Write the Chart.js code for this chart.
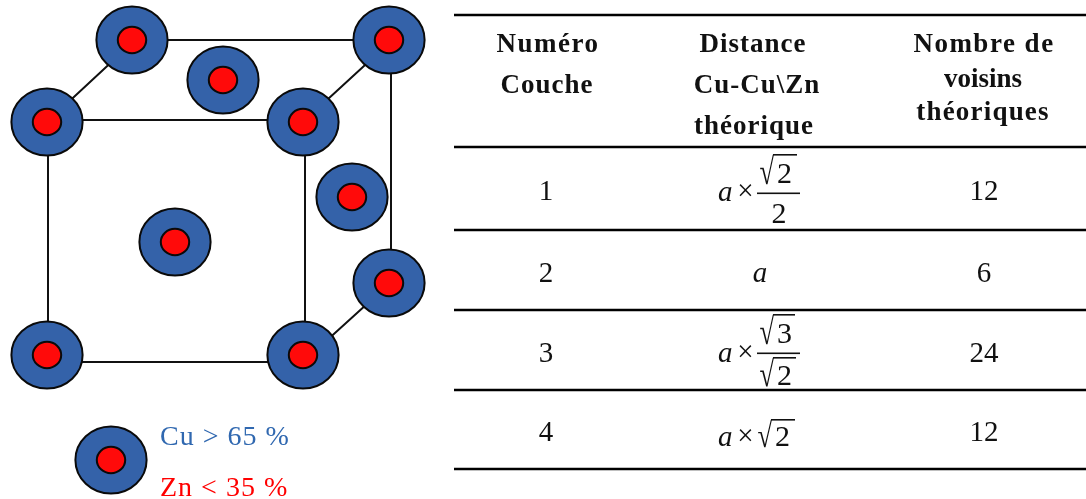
<!DOCTYPE html>
<html lang="fr">
<head>
<meta charset="utf-8">
<title>Couches de voisins Cu-Zn</title>
<script src="https://cdn.jsdelivr.net/npm/chart.js@4"></script>
<style>
  html, body { margin: 0; padding: 0; background: #fff; overflow: hidden; }
  canvas { display: block; }
</style>
</head>
<body>
<canvas id="latticeChart" width="1086" height="499"></canvas>
<script>
// values (pixel-like units, y going down)
const atomX = [132, 389, 223, 47, 303, 352, 175, 389, 47, 303];
const atomY = [40, 40, 80, 122, 122, 197, 242, 283, 355, 355];
const legendAtomX = [111];
const legendAtomY = [460];

const bondX = [132, 389, null, 47, 303, null, 47, 303, null, 48, 48, null, 305, 305, null, 391, 391, null, 132, 47, null, 389, 303, null, 389, 303];
const bondY = [40, 40, null, 120, 120, null, 362, 362, null, 122, 355, null, 122, 355, null, 40, 283, null, 43, 122, null, 43, 122, null, 284, 362];

const ruleY = [15, 147, 230, 310, 390, 469];

const headerCol1 = ['Numéro', 'Couche'];
const headerCol2 = ['Distance', 'Cu-Cu\\Zn', 'théorique'];
const headerCol3 = ['Nombre de', 'voisins', 'théoriques'];
const layerNumbers = ['1', '2', '3', '4'];
const neighbourCounts = ['12', '6', '24', '12'];
const legendLabels = ['Cu > 65 %', 'Zn < 35 %'];

const BLUE = '#3462a9';
const RED = '#ff0a0a';
const SERIF = '"Liberation Serif", "Times New Roman", serif';

const makeAtom = () => {
  const c = document.createElement('canvas');
  c.width = 76;
  c.height = 72;
  const g = c.getContext('2d');
  g.lineWidth = 2;
  g.strokeStyle = '#0a0a0a';
  g.fillStyle = BLUE;
  g.beginPath();
  g.ellipse(38, 36, 35.6, 33.6, 0, 0, Math.PI * 2);
  g.fill();
  g.stroke();
  g.fillStyle = RED;
  g.beginPath();
  g.ellipse(38, 36, 14.2, 13.2, 0, 0, Math.PI * 2);
  g.fill();
  g.stroke();
  return c;
};

const toPoints = (xs, ys) => xs.map((x, i) => ({ x, y: ys[i] }));

const rulePoints = [];
ruleY.forEach((y) => {
  rulePoints.push({ x: 454, y }, { x: 1086, y }, { x: null, y: null });
});

const drawLine = (ctx, text, x, y, font, spacing) => {
  ctx.font = font;
  ctx.letterSpacing = spacing;
  ctx.fillText(text, x, y);
  ctx.letterSpacing = '0px';
};

// sqrt glyph stretched to fit its box, then the bar and the digit
const drawRoot = (ctx, digit, x, top, baseline, barEnd) => {
  ctx.textAlign = 'left';
  ctx.font = '100px ' + SERIF;
  const m = ctx.measureText('√');
  const gw = m.actualBoundingBoxRight + m.actualBoundingBoxLeft;
  const gh = m.actualBoundingBoxAscent + m.actualBoundingBoxDescent;
  const boxW = 14;
  const boxH = baseline + 1 - top;
  ctx.save();
  ctx.translate(x, top);
  ctx.scale(boxW / gw, boxH / gh);
  ctx.fillText('√', m.actualBoundingBoxLeft, m.actualBoundingBoxAscent);
  ctx.restore();
  ctx.fillRect(x + boxW - 1, top, barEnd - (x + boxW - 1), 1.6);
  ctx.font = '30px ' + SERIF;
  ctx.fillText(digit, x + boxW + 3, baseline);
};

const drawPrefix = (ctx, baseline) => {
  ctx.textAlign = 'left';
  ctx.font = 'italic 29px ' + SERIF;
  ctx.fillText('a', 718, baseline);
  ctx.textAlign = 'center';
  ctx.font = '29px ' + SERIF;
  ctx.fillText('×', 745.5, baseline - 1);
};

const tablePlugin = {
  id: 'tableText',
  afterDatasetsDraw(chart) {
    const { ctx, scales } = chart;
    const px = (v) => scales.x.getPixelForValue(v);
    const py = (v) => scales.y.getPixelForValue(v);
    ctx.save();
    ctx.fillStyle = '#111';
    ctx.textBaseline = 'alphabetic';
    ctx.textAlign = 'center';

    const bold = 'bold 27px ' + SERIF;
    drawLine(ctx, headerCol1[0], px(548), py(52), bold, '1.5px');
    drawLine(ctx, headerCol1[1], px(547), py(93), bold, '1px');
    drawLine(ctx, headerCol2[0], px(753), py(52), bold, '1px');
    drawLine(ctx, headerCol2[1], px(757), py(93), bold, '1px');
    drawLine(ctx, headerCol2[2], px(754), py(134), bold, '1px');
    drawLine(ctx, headerCol3[0], px(984), py(52), bold, '1.5px');
    drawLine(ctx, headerCol3[1], px(983), py(87), bold, '0px');
    drawLine(ctx, headerCol3[2], px(983), py(120), bold, '1.2px');

    ctx.font = '29px ' + SERIF;
    const rowBase = [200, 282, 362, 441];
    layerNumbers.forEach((t, i) => ctx.fillText(t, px(546), py(rowBase[i])));
    neighbourCounts.forEach((t, i) => ctx.fillText(t, px(984), py(rowBase[i])));

    // row 1
    drawPrefix(ctx, py(201));
    drawRoot(ctx, '2', px(760), py(154), py(183), px(797));
    ctx.fillRect(px(757), py(192.5), 43, 1.6);
    ctx.textAlign = 'center';
    ctx.font = '30px ' + SERIF;
    ctx.fillText('2', px(779), py(223));

    // row 2
    ctx.font = 'italic 29px ' + SERIF;
    ctx.fillText('a', px(760), py(282));

    // row 3
    drawPrefix(ctx, py(362));
    drawRoot(ctx, '3', px(760), py(314), py(343), px(795));
    ctx.fillRect(px(757), py(352.5), 43, 1.6);
    drawRoot(ctx, '2', px(760), py(357), py(385), px(796));

    // row 4
    drawPrefix(ctx, py(446));
    drawRoot(ctx, '2', px(758), py(419), py(446), px(795));

    // legend
    ctx.textAlign = 'left';
    ctx.fillStyle = '#3068b0';
    drawLine(ctx, legendLabels[0], px(160), py(445), '28px ' + SERIF, '1px');
    ctx.fillStyle = '#ff0000';
    drawLine(ctx, legendLabels[1], px(160), py(496), '28px ' + SERIF, '1px');
    ctx.restore();
  }
};

const atomImage = makeAtom();

new Chart(document.getElementById('latticeChart').getContext('2d'), {
  type: 'scatter',
  data: {
    datasets: [
      {
        data: rulePoints,
        showLine: true,
        spanGaps: false,
        borderColor: '#000',
        borderWidth: 2.4,
        pointRadius: 0,
        clip: false,
        order: 3
      },
      {
        data: toPoints(bondX, bondY),
        showLine: true,
        spanGaps: false,
        borderColor: '#111',
        borderWidth: 2,
        pointRadius: 0,
        clip: false,
        order: 2
      },
      {
        data: toPoints(atomX, atomY),
        showLine: false,
        pointStyle: atomImage,
        pointRadius: 35,
        clip: false,
        order: 1
      },
      {
        data: toPoints(legendAtomX, legendAtomY),
        showLine: false,
        pointStyle: atomImage,
        pointRadius: 35,
        clip: false,
        order: 1
      }
    ]
  },
  options: {
    responsive: false,
    animation: false,
    layout: { padding: 0, autoPadding: false },
    plugins: { legend: { display: false }, tooltip: { enabled: false }, title: { display: false } },
    scales: {
      x: { type: 'linear', min: 0, max: 1086, display: false },
      y: { type: 'linear', min: 0, max: 499, reverse: true, display: false }
    }
  },
  plugins: [tablePlugin]
});
</script>
</body>
</html>
